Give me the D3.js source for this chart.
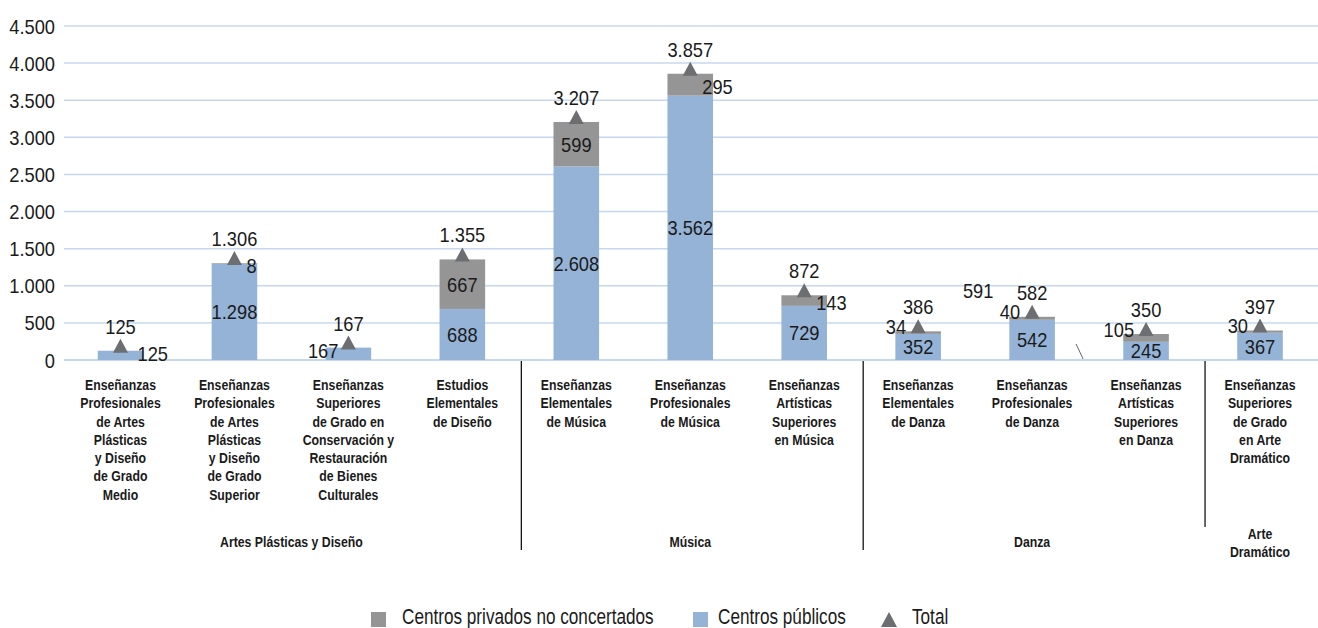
<!DOCTYPE html>
<html>
<head>
<meta charset="utf-8">
<title>Centros por enseñanza</title>
<script src="https://d3js.org/d3.v7.min.js"></script>
<style>
  body { margin: 0; background: #fff; }
  svg text { font-family: "Liberation Sans", Arial, sans-serif; fill: #1a1a1a; }
</style>
</head>
<body>
<script>
// data
var categories = [
  ["Enseñanzas","Profesionales","de Artes","Plásticas","y Diseño","de Grado","Medio"],
  ["Enseñanzas","Profesionales","de Artes","Plásticas","y Diseño","de Grado","Superior"],
  ["Enseñanzas","Superiores","de Grado en","Conservación y","Restauración","de Bienes","Culturales"],
  ["Estudios","Elementales","de Diseño"],
  ["Enseñanzas","Elementales","de Música"],
  ["Enseñanzas","Profesionales","de Música"],
  ["Enseñanzas","Artísticas","Superiores","en Música"],
  ["Enseñanzas","Elementales","de Danza"],
  ["Enseñanzas","Profesionales","de Danza"],
  ["Enseñanzas","Artísticas","Superiores","en Danza"],
  ["Enseñanzas","Superiores","de Grado","en Arte","Dramático"]
]
var publicos = [125, 1298, 167, 688, 2608, 3562, 729, 352, 542, 245, 367]
var privados = [0, 8, 0, 667, 599, 295, 143, 34, 40, 105, 30]
var totales = [125, 1306, 167, 1355, 3207, 3857, 872, 386, 582, 350, 397]
var grupos = [
  {name: ["Artes Plásticas y Diseño"], first: 0, last: 3},
  {name: ["Música"], first: 4, last: 6},
  {name: ["Danza"], first: 7, last: 9},
  {name: ["Arte", "Dramático"], first: 10, last: 10}
]
var yTicks = [0, 500, 1000, 1500, 2000, 2500, 3000, 3500, 4000, 4500]
// where each value label sits (as in the original)
var pubLabelPos = ["right","inside","left","inside","inside","inside","inside","inside","inside","inside","inside"]
var privLabelPos = ["none","right","none","inside","inside","right","right","left","left","left","left"]

var colPublic = "#95b3d7", colPrivate = "#959595", colTotal = "#6d6e71", colGrid = "#c6d8ee"

var w = 1318, h = 628
var svg = d3.select("body").append("svg").attr("width", w).attr("height", h)

var es = d3.formatLocale({decimal: ",", thousands: ".", grouping: [3], currency: ["", " €"]})
var fmt = es.format(",d")

// the original face is a condensed one, squeeze Liberation Sans sideways
var numSize = 21, numSx = 0.87
function place(x, y, sx) { return "translate(" + x + "," + y + ") scale(" + sx + ",1)" }
function label(x, y, s, anchor) {
  return svg.append("text").attr("transform", place(x, y, numSx))
    .attr("text-anchor", anchor || "middle").attr("font-size", numSize).text(s)
}
function block(x, y, lines, size, sx, weight) {
  var t = svg.append("text").attr("transform", place(x, y, sx))
    .attr("text-anchor", "middle").attr("font-size", size).attr("font-weight", weight)
  lines.forEach(function(l, k){
    t.append("tspan").attr("x", 0).attr("y", k * 18.3).text(l)
  })
  return t
}

var x = d3.scaleBand().domain(d3.range(categories.length))
  .range([63.5, 1317]).paddingInner(0.6).paddingOuter(0.3)
var y = d3.scaleLinear().domain([0, 4500]).range([360, 26])
var bw = x.bandwidth()
function cx(i) { return x(i) + bw / 2 }
function edge(i) { return x.range()[0] + i * x.step() }

// grid
svg.selectAll(".grid").data(yTicks).enter().append("line")
  .attr("x1", 64).attr("x2", w)
  .attr("y1", function(d){ return y(d) }).attr("y2", function(d){ return y(d) })
  .attr("stroke", colGrid).attr("stroke-width", function(d){ return d == 0 ? 2 : 1.5 })

yTicks.forEach(function(d){ label(55, y(d) + 7.5, fmt(d), "end") })

// bars
svg.selectAll(".pub").data(publicos).enter().append("rect")
  .attr("x", function(d,i){ return x(i) }).attr("width", bw)
  .attr("y", function(d){ return y(d) }).attr("height", function(d){ return y(0) - y(d) })
  .attr("fill", colPublic)
svg.selectAll(".priv").data(privados).enter().append("rect")
  .attr("x", function(d,i){ return x(i) }).attr("width", bw)
  .attr("y", function(d,i){ return y(publicos[i] + d) })
  .attr("height", function(d,i){ return y(publicos[i]) - y(publicos[i] + d) })
  .attr("fill", colPrivate)

// total markers
svg.selectAll(".tri").data(totales).enter().append("path")
  .attr("d", function(d,i){
    var px = cx(i), py = y(d) + 2
    return "M" + (px - 7.5) + "," + py + "L" + (px + 7.5) + "," + py + "L" + px + "," + (py - 14) + "Z"
  })
  .attr("fill", colTotal)

// value labels
totales.forEach(function(d, i){ label(cx(i), y(d) - 17, fmt(d)) })

publicos.forEach(function(d, i){
  if (pubLabelPos[i] == "right") label(cx(i) + 17, y(d) + 10, fmt(d), "start")
  else if (pubLabelPos[i] == "left") label(cx(i) - 10, y(d) + 10, fmt(d), "end")
  else label(cx(i), (y(0) + y(d)) / 2 + 7.5, fmt(d))
})

privados.forEach(function(d, i){
  var mid = (y(publicos[i]) + y(totales[i])) / 2
  if (privLabelPos[i] == "inside") label(cx(i), mid + 7.5, fmt(d))
  else if (privLabelPos[i] == "right") label(cx(i) + 12, mid + 9.5, fmt(d), "start")
  else if (privLabelPos[i] == "left") label(cx(i) - 12, y(totales[i]) + 2.5, fmt(d), "end")
})

// stray label and tick left in the original
label(edge(8) + 3, y(930) + 7.5, "591")
svg.append("line").attr("x1", edge(9) - 13).attr("y1", 344).attr("x2", edge(9) - 6).attr("y2", 359)
  .attr("stroke", "#666").attr("stroke-width", 1)

// category labels
categories.forEach(function(lines, i){ block(cx(i), 390, lines, 15, 0.82, "bold") })

// group separators and names
grupos.forEach(function(g, gi){
  if (gi > 0) {
    svg.append("line").attr("x1", edge(g.first) + 2).attr("x2", edge(g.first) + 2)
      .attr("y1", 361).attr("y2", g.first == 10 ? 527 : 550)
      .attr("stroke", "#000").attr("stroke-width", 1.2)
  }
  var mx = (edge(g.first) + edge(g.last + 1)) / 2
  block(mx, g.name.length > 1 ? 539 : 547, g.name, 15, 0.82, "bold")
})

// legend
var legend = [
  {label: "Centros privados no concertados", color: colPrivate, kind: "sq", sx: 371, tx: 402},
  {label: "Centros públicos", color: colPublic, kind: "sq", sx: 693, tx: 718},
  {label: "Total", color: colTotal, kind: "tri", sx: 881, tx: 912}
]
var ly = 620
legend.forEach(function(l){
  if (l.kind == "sq") {
    svg.append("rect").attr("x", l.sx).attr("y", ly - 8).attr("width", 15).attr("height", 15).attr("fill", l.color)
  } else {
    svg.append("path").attr("d", "M" + l.sx + "," + (ly + 7) + "L" + (l.sx + 16) + "," + (ly + 7) + "L" + (l.sx + 8) + "," + (ly - 8) + "Z")
      .attr("fill", l.color)
  }
  svg.append("text").attr("transform", place(l.tx, ly + 4, 0.78))
    .attr("font-size", 22).text(l.label)
})
</script>
</body>
</html>
